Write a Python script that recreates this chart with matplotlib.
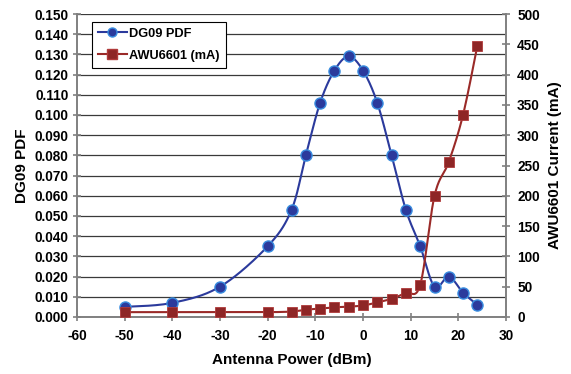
import numpy as np
import matplotlib
matplotlib.use("Agg")
import matplotlib.pyplot as plt
from matplotlib.lines import Line2D

plt.rcParams['font.family'] = ['Liberation Sans', 'DejaVu Sans']
plt.rcParams['font.weight'] = 'bold'
plt.rcParams['axes.unicode_minus'] = False

power_pdf = [-50, -40, -30, -20, -15, -12, -9, -6, -3, 0, 3, 6, 9, 12, 15, 18, 21, 24]
pdf_vals = [0.005, 0.007, 0.015, 0.035, 0.053, 0.080, 0.106, 0.122, 0.129, 0.122,
            0.106, 0.080, 0.053, 0.035, 0.015, 0.020, 0.012, 0.006]
power_cur = [-50, -40, -30, -20, -15, -12, -9, -6, -3, 0, 3, 6, 9, 12, 15, 18, 21, 24]
cur_vals = [8, 8, 8, 8, 9, 12, 14, 16, 17, 19, 24, 30, 40, 53, 200, 256, 334, 448]

xlim = (-60, 30)
ylim_l = (0, 0.150)
ylim_r = (0, 500)

def smooth(xs, ys, xr, yr, n=30):
    # Excel-like smoothing (Bezier with Catmull-Rom control points) in normalized space
    x = (np.asarray(xs, float) - xr[0]) / (xr[1] - xr[0])
    y = (np.asarray(ys, float) - yr[0]) / (yr[1] - yr[0])
    P = np.column_stack([x, y])
    out = []
    m = len(P)
    for i in range(m - 1):
        p0 = P[i - 1] if i > 0 else P[i]
        p1 = P[i]
        p2 = P[i + 1]
        p3 = P[i + 2] if i + 2 < m else P[i + 1]
        c1 = p1 + (p2 - p0) / 6.0
        c2 = p2 - (p3 - p1) / 6.0
        t = np.linspace(0, 1, n)[:, None]
        seg = ((1 - t) ** 3) * p1 + 3 * ((1 - t) ** 2) * t * c1 + 3 * (1 - t) * t ** 2 * c2 + t ** 3 * p2
        out.append(seg if i == 0 else seg[1:])
    S = np.vstack(out)
    return S[:, 0] * (xr[1] - xr[0]) + xr[0], S[:, 1] * (yr[1] - yr[0]) + yr[0]

fig = plt.figure(figsize=(5.71, 3.74), dpi=100)
ax = fig.add_axes([77/571, 1 - 317/374, (506-77)/571, (317-14)/374])
ax2 = ax.twinx()

blue = '#2B3A9C'
blue_edge = '#3A8EE0'
red = '#9A2A28'
red_face = '#8E2626'
grid_c = '#3a3a3a'
spine_c = '#808080'

ax.set_xlim(*xlim)
ax.set_ylim(*ylim_l)
ax2.set_ylim(*ylim_r)

ax.set_yticks(np.arange(0, 0.1501, 0.010))
ax.set_yticklabels([f"{v:.3f}" for v in np.arange(0, 0.1501, 0.010)])
ax2.set_yticks(np.arange(0, 501, 50))
ax.set_xticks(np.arange(-60, 31, 10))

ax.yaxis.grid(True, color=grid_c, lw=0.9)
ax.set_axisbelow(True)

for a in (ax, ax2):
    for s in a.spines.values():
        s.set_color(spine_c)
        s.set_linewidth(1.2)
    a.spines['top'].set_visible(False)
    a.tick_params(direction='inout', length=6, width=1.2, color=spine_c,
                  labelsize=9.8, pad=3)
ax.tick_params(axis='x', pad=6)
ax2.tick_params(axis='y', pad=5)

# PDF series (left axis)
sx, sy = smooth(power_pdf, pdf_vals, xlim, ylim_l)
ax.plot(sx, sy, color=blue, lw=1.5, zorder=3)
ax.plot(power_pdf, pdf_vals, ls='none', marker='o', ms=8, mfc=blue, mec=blue_edge,
        mew=1.0, zorder=4)

# Current series (right axis)
cx, cy = smooth(power_cur, cur_vals, xlim, ylim_r)
ax2.plot(cx, cy, color=red, lw=1.5, zorder=3)
ax2.plot(power_cur, cur_vals, ls='none', marker='s', ms=7.5, mfc=red_face, mec='#B03A3A',
         mew=0.6, zorder=4)

ax.set_xlabel('Antenna Power (dBm)', fontsize=11, fontweight='bold', labelpad=7)
ax.set_ylabel('DG09 PDF', fontsize=11, fontweight='bold', labelpad=4)
ax2.set_ylabel('AWU6601 Current (mA)', fontsize=11, fontweight='bold', labelpad=6)

handles = [
    Line2D([], [], color=blue, lw=1.5, marker='o', ms=6.5, mfc=blue, mec=blue_edge),
    Line2D([], [], color=red, lw=1.5, marker='s', ms=6.5, mfc=red_face, mec='#B03A3A'),
]
leg = ax2.legend(handles, ['DG09 PDF', 'AWU6601 (mA)'], loc='upper left',
                 bbox_to_anchor=(0.035, 0.975), fancybox=False, framealpha=1,
                 edgecolor='black', fontsize=9.2, handlelength=2.2,
                 borderpad=0.5, labelspacing=0.75, handletextpad=0.2,
                 borderaxespad=0.0)
leg.get_frame().set_linewidth(0.8)
for t in leg.get_texts():
    t.set_fontweight('bold')

fig.savefig('out.png', dpi=100)
